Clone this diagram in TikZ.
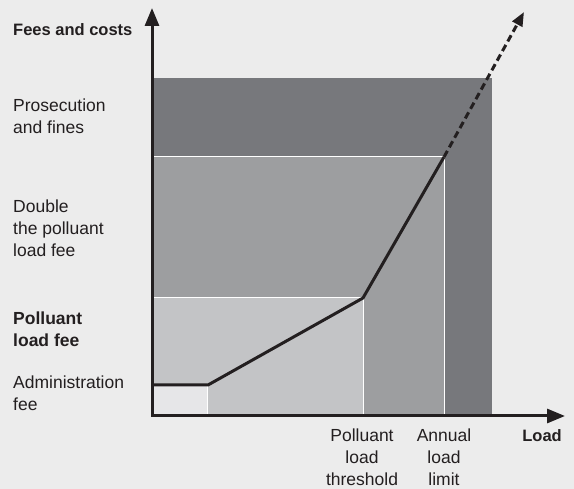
\documentclass[tikz,border=0pt]{standalone}
\usepackage{fontspec}
\setmainfont{Liberation Sans}
\usetikzlibrary{positioning, calc, arrows.meta}
\definecolor{bgGrey}{HTML}{ECECEC}
\definecolor{finesGrey}{HTML}{77787C}
\definecolor{doubleGrey}{HTML}{9D9EA0}
\definecolor{feeGrey}{HTML}{C3C4C6}
\definecolor{adminGrey}{HTML}{E6E6E8}
\definecolor{inkBlack}{HTML}{231F20}

\begin{document}
\begin{tikzpicture}[x=1pt, y=-1pt,
	lbl/.style={font=\fontsize{17.5}{22}\selectfont, align=left, inner sep=0pt, anchor=base west, text=inkBlack},
	ticklbl/.style={lbl, align=center, anchor=base},
	zone/.style={draw=white, line width=1pt},
	axis/.style={draw=inkBlack, line width=3pt, {Triangle[length=18pt,width=14pt]}-{Triangle[length=18pt,width=14pt]}},
	feeline/.style={draw=inkBlack, line width=3pt, line join=miter}]
			\useasboundingbox[fill=bgGrey] (0,0) rectangle (574,489);
			
			% cost zones
			\fill[finesGrey] (152,78) rectangle (492,416);
			\draw[zone, fill=doubleGrey] (152,157) rectangle (444,416);
			\draw[zone, fill=feeGrey] (152,298) rectangle (363,416);
			\draw[zone, fill=adminGrey] (152,385) rectangle (207,416);
			
			\coordinate (adminStart) at (152,385);
			\coordinate (adminEnd) at (208,385);
			\coordinate (threshold) at (363,298);
			\coordinate (limit) at (444,157);
			\coordinate (beyond) at (524,12);
			\draw[feeline] (adminStart) -- (adminEnd) -- (threshold) -- (limit);
			\draw[feeline, dash pattern=on 7pt off 4pt, -{Triangle[length=14pt,width=11pt]}] (limit) -- (beyond);
			
			\coordinate (yTop) at (152,8);
			\coordinate (origin) at (152,416);
			\coordinate (xEnd) at (565,416);
			\draw[axis] (yTop) -- (origin) -- (xEnd);
			
			% base of a multi-line label is its last line
			\node[lbl, font=\fontsize{16.5}{22}\selectfont\bfseries] (feesLbl) at (13,36) {Fees and costs};
			\node[lbl] (finesLbl) at (13,134) {Prosecution\\and fines};
			\node[lbl] (doubleLbl) at (13,257) {Double\\the polluant\\load fee};
			\node[lbl, font=\fontsize{17.5}{22}\selectfont\bfseries] (feeLbl) at (13,347) {Polluant\\load fee};
			\node[lbl] (adminLbl) at (13,411) {Administration\\fee};
			
			\node[ticklbl] (thresholdLbl) at (362,486) {Polluant\\load\\threshold};
			\node[ticklbl] (limitLbl) at (444,486) {Annual\\load\\limit};
			\node[lbl, anchor=base east, font=\fontsize{16.5}{22}\selectfont\bfseries] (loadLbl) at (562,442) {Load};
		\end{tikzpicture}
\end{document}
